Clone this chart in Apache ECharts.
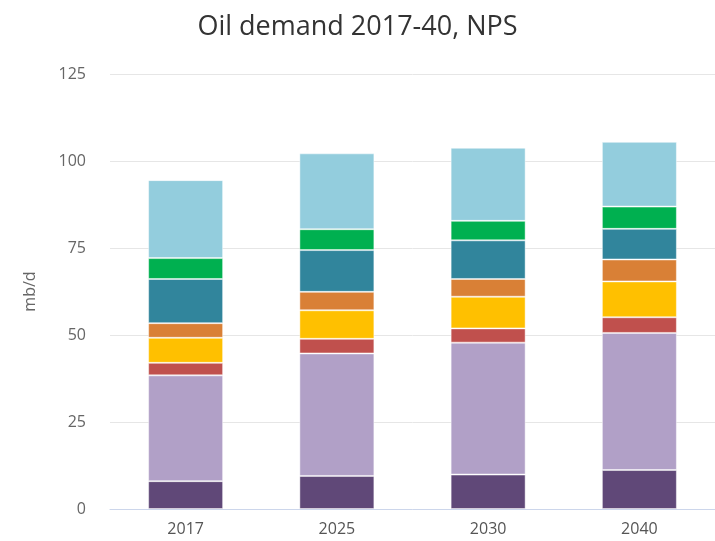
<!DOCTYPE html>
<html>
<head>
<meta charset="utf-8">
<script src="https://cdn.jsdelivr.net/npm/echarts@6/dist/echarts.min.js"></script>
<style>
  html, body { margin: 0; padding: 0; background: #fff; }
  #chart { width: 715px; height: 541px; }
</style>
</head>
<body>
<div id="chart"></div>
<script>
// chart data (mb/d)
const years = ['2017', '2025', '2030', '2040'];
const yTicks = [0, 25, 50, 75, 100, 125];

// stacked segments, bottom to top
const seg1 = [8.0, 9.5, 9.9, 11.2];
const seg2 = [30.4, 35.2, 37.9, 39.4];
const seg3 = [3.6, 4.2, 4.1, 4.5];
const seg4 = [7.2, 8.2, 9.1, 10.3];
const seg5 = [4.2, 5.3, 5.1, 6.3];
const seg6 = [12.7, 12.0, 11.1, 8.8];
const seg7 = [6.0, 6.0, 5.6, 6.4];
const seg8 = [22.4, 21.8, 21.0, 18.6];

const segments = [seg1, seg2, seg3, seg4, seg5, seg6, seg7, seg8];
const colors = ['#604878', '#b1a0c7', '#c0504d', '#ffc000', '#d98036', '#31859c', '#00b050', '#93cddd'];

const chart = echarts.init(document.getElementById('chart'));

chart.setOption({
  animation: false,
  textStyle: { fontFamily: 'Open Sans' },
  title: {
    text: 'Oil demand 2017-40, NPS',
    left: 'center',
    top: 9,
    textStyle: { fontSize: 27, fontWeight: 'normal', color: '#333', fontFamily: 'Open Sans' }
  },
  grid: { left: 110, right: -2, top: 74, bottom: 32 },
  xAxis: {
    type: 'category',
    data: years,
    axisLine: { lineStyle: { color: '#ccd6eb' } },
    axisTick: { length: 10, lineStyle: { color: '#ccd6eb' } },
    axisLabel: { color: '#555', fontSize: 16, margin: 12 }
  },
  yAxis: {
    type: 'value',
    min: yTicks[0],
    max: yTicks[yTicks.length - 1],
    interval: 25,
    name: 'mb/d',
    nameLocation: 'middle',
    nameGap: 72,
    nameTextStyle: { color: '#666', fontSize: 16 },
    axisLine: { show: false },
    axisTick: { show: false },
    axisLabel: { color: '#666', fontSize: 16, margin: 24 },
    splitLine: { lineStyle: { color: '#e6e6e6' } }
  },
  series: segments.map((d, i) => ({
    type: 'bar',
    stack: 'total',
    data: d,
    barWidth: 75,
    itemStyle: { color: colors[i], borderColor: 'rgba(255,255,255,0.45)', borderWidth: 1 }
  }))
});
</script>
</body>
</html>
